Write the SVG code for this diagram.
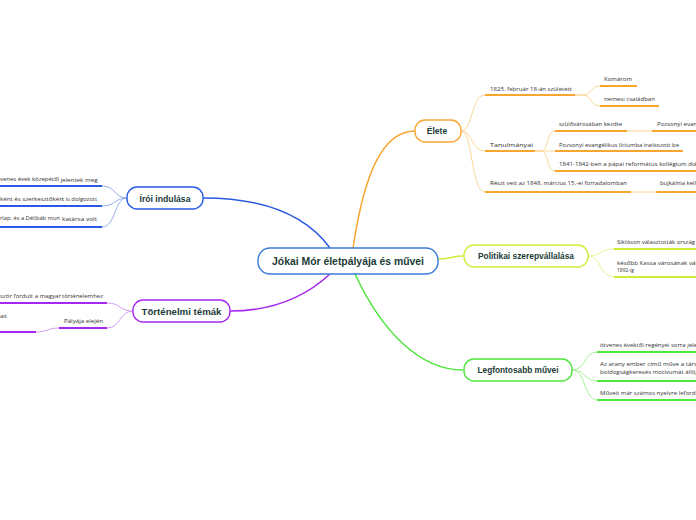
<svg xmlns="http://www.w3.org/2000/svg" width="696" height="520" viewBox="0 0 696 520">
<style>
.bg{fill:#ffffff}
.box{fill:#ffffff;stroke-width:1.4}
.title{font-family:"Liberation Sans",Arial,sans-serif;font-weight:bold;fill:#1b3b36;text-anchor:middle;dominant-baseline:central}
.t{font-family:"Open Sans","Liberation Sans",Arial,sans-serif;font-size:6px;fill:#333333}
.ul{fill:none;stroke-width:2;stroke-linecap:butt}
.lc{fill:none;stroke-width:1}
.main{fill:none;stroke-width:1.5}
.o{stroke:#f8a630}.ol{stroke:#fcd697}
.y{stroke:#cfeb34}.yl{stroke:#e6f59a}
.g{stroke:#4ee63c}.gl{stroke:#a8f29c}
.b{stroke:#2a59e3}.bl{stroke:#94acf0}
.p{stroke:#a528ef}.pl{stroke:#d79cf7}
</style>
<rect class="bg" x="0" y="0" width="696" height="520"/>
<g id="connectors">
<path class="main b" d="M203,198 C262,198 305,214 330,248"/>
<path class="main o" d="M353,248 C364,175 382,131 415,131"/>
<path class="main p" d="M330,274 C302,300 268,311 230,311"/>
<path class="main g" d="M355,274 C382,332 420,370 463,370"/>
<path class="main y" d="M438,259 C450,259 452,256 463,256"/>
<path class="lc ol" d="M461,131 C473,131 471,95 485,95"/>
<path class="lc ol" d="M461,131 C473,131 471,151 485,151"/>
<path class="lc ol" d="M461,131 C473,131 471,192 485,192"/>
<path class="lc ol" d="M575,95 L583,95 C592,95 590,86 600,86"/>
<path class="lc ol" d="M575,95 L583,95 C592,95 590,106 600,106"/>
<path class="lc ol" d="M535,151 L541,151 C549,151 546,131 555,131"/>
<path class="lc ol" d="M535,151 L555,151"/>
<path class="lc ol" d="M535,151 L541,151 C549,151 546,171 555,171"/>
<path class="lc ol" d="M627,131 L652,131"/>
<path class="lc ol" d="M631,192 L656,192"/>
<path class="lc yl" d="M588,256 C601,256 600,249 614,249"/>
<path class="lc yl" d="M588,256 C601,256 600,277 614,277"/>
<path class="lc gl" d="M572,370 C586,370 584,352 597,352"/>
<path class="lc gl" d="M572,370 C586,370 584,381 597,381"/>
<path class="lc gl" d="M572,370 C586,370 584,400 597,400"/>
<path class="lc bl" d="M127,198 C114,198 116,186 102,186"/>
<path class="lc bl" d="M127,198 C114,198 116,206 102,206"/>
<path class="lc bl" d="M127,198 C114,198 116,227 102,227"/>
<path class="lc pl" d="M133,311 C119,311 121,303 107,303"/>
<path class="lc pl" d="M133,311 C119,311 121,328 107,328"/>
<path class="lc pl" d="M59,328 C48,328 47,332 36,332"/>
</g>
<g id="center">
<rect class="box" x="258" y="248" width="180" height="26" rx="12" stroke="#3b7bd8" stroke-width="1.5"/>
<text class="title" x="348" y="261.5" font-size="10" textLength="152" lengthAdjust="spacingAndGlyphs">Jókai Mór életpályája és művei</text>
</g>
<g id="elete">
<rect class="box o" x="415" y="120" width="46" height="22" rx="10"/>
<text class="title" x="437" y="131" font-size="8.5">Élete</text>
</g>
<g id="elete-szuletett">
<path class="ul o" d="M485,95 L575,95"/>
<text class="t" x="490" y="91" textLength="82" lengthAdjust="spacingAndGlyphs">1825. február 18-án született</text>
</g>
<g id="komarom">
<path class="ul o" d="M600,86 L637,86"/>
<text class="t" x="604" y="81" textLength="28" lengthAdjust="spacingAndGlyphs">Komárom</text>
</g>
<g id="nemesi">
<path class="ul o" d="M600,106 L659,106"/>
<text class="t" x="604" y="101" textLength="51" lengthAdjust="spacingAndGlyphs">nemesi családban</text>
</g>
<g id="tanulmanyai">
<path class="ul o" d="M485,151 L535,151"/>
<text class="t" x="490" y="146.5" textLength="43" lengthAdjust="spacingAndGlyphs">Tanulmányai</text>
</g>
<g id="szulovarosaban">
<path class="ul o" d="M555,131 L627,131"/>
<text class="t" x="559" y="126" textLength="63" lengthAdjust="spacingAndGlyphs">szülővárosában kezdte</text>
</g>
<g id="pozsonyi-evan">
<path class="ul o" d="M652,131 L696,131"/>
<text class="t" x="657" y="126" textLength="40" lengthAdjust="spacingAndGlyphs">Pozsonyi evan</text>
</g>
<g id="pozsonyi-liceum">
<path class="ul o" d="M555,151 L683,151"/>
<text class="t" x="559" y="146.5" textLength="120" lengthAdjust="spacingAndGlyphs">Pozsonyi evangélikus líciumba iratkozott be</text>
</g>
<g id="papai">
<path class="ul o" d="M555,171 L696,171"/>
<text class="t" x="559" y="165.5" textLength="138" lengthAdjust="spacingAndGlyphs">1841-1842-ben a pápai református kollégium diá</text>
</g>
<g id="forradalom">
<path class="ul o" d="M485,192 L631,192"/>
<text class="t" x="490" y="184.5" textLength="137" lengthAdjust="spacingAndGlyphs">Részt vett az 1848. március 15.-ei forradalomban</text>
</g>
<g id="bujkalnia">
<path class="ul o" d="M656,192 L696,192"/>
<text class="t" x="660" y="184.5" textLength="36" lengthAdjust="spacingAndGlyphs">bujkálnia kell</text>
</g>
<g id="politikai">
<rect class="box y" x="464" y="245" width="124" height="22" rx="10"/>
<text class="title" x="526" y="256" font-size="8.5" textLength="96" lengthAdjust="spacingAndGlyphs">Politikai szerepvállalása</text>
</g>
<g id="sikloson">
<path class="ul y" d="M614,249 L696,249"/>
<text class="t" x="617" y="244" textLength="78" lengthAdjust="spacingAndGlyphs">Siklóson választották ország</text>
</g>
<g id="kassa">
<path class="ul y" d="M614,277 L696,277"/>
<text class="t" x="617" y="264.5" textLength="80" lengthAdjust="spacingAndGlyphs">később Kassa városának  vál</text>
<text class="t" x="617" y="272" textLength="17" lengthAdjust="spacingAndGlyphs">1892-ig</text>
</g>
<g id="legfontosabb">
<rect class="box g" x="464" y="359" width="108" height="22" rx="10"/>
<text class="title" x="518" y="370" font-size="8.5" textLength="81" lengthAdjust="spacingAndGlyphs">Legfontosabb művei</text>
</g>
<g id="otvenes">
<path class="ul g" d="M597,352 L696,352"/>
<text class="t" x="600" y="347" textLength="97" lengthAdjust="spacingAndGlyphs">ötvenes évektől regényei sorra jele</text>
</g>
<g id="aranyember">
<path class="ul g" d="M597,381 L696,381"/>
<text class="t" x="600" y="366" textLength="97" lengthAdjust="spacingAndGlyphs">Az arany ember  című műve a társ</text>
<text class="t" x="600" y="373.5" textLength="97" lengthAdjust="spacingAndGlyphs">boldogságkeresés motívumát állítj</text>
</g>
<g id="forditas">
<path class="ul g" d="M597,400 L696,400"/>
<text class="t" x="600" y="395" textLength="97" lengthAdjust="spacingAndGlyphs">Műveit már számos nyelvre lefordí</text>
</g>
<g id="iroi">
<rect class="box b" x="127" y="187" width="76" height="22" rx="10"/>
<text class="title" x="165" y="198.5" font-size="8.5" textLength="51" lengthAdjust="spacingAndGlyphs">Írói indulása</text>
</g>
<g id="iroi-1">
<path class="ul b" d="M0,186 L102,186"/>
<text class="t" x="0" y="180.5" textLength="59" lengthAdjust="spacingAndGlyphs">venes évek közepétől</text>
<text class="t" x="60.5" y="181.5" textLength="37" lengthAdjust="spacingAndGlyphs">jelentek meg</text>
</g>
<g id="iroi-2">
<path class="ul b" d="M0,206 L102,206"/>
<text class="t" x="0" y="200.5" textLength="63" lengthAdjust="spacingAndGlyphs">ként és szerkesztőkén</text>
<text class="t" x="62" y="201" textLength="35" lengthAdjust="spacingAndGlyphs">t is dolgozott</text>
</g>
<g id="iroi-3">
<path class="ul b" d="M0,227 L102,227"/>
<text class="t" x="0" y="219.5" textLength="60" lengthAdjust="spacingAndGlyphs">rlap, és a Délibáb  mun</text>
<text class="t" x="62" y="220.5" textLength="35" lengthAdjust="spacingAndGlyphs">katársa volt</text>
</g>
<g id="tortenelmi">
<rect class="box p" x="133" y="300" width="97" height="22" rx="10"/>
<text class="title" x="181.5" y="311.5" font-size="8.5" textLength="80" lengthAdjust="spacingAndGlyphs">Történelmi témák</text>
</g>
<g id="tort-1">
<path class="ul p" d="M0,303 L107,303"/>
<text class="t" x="0" y="297.5" textLength="61" lengthAdjust="spacingAndGlyphs">ször fordult a magyar</text>
<text class="t" x="62" y="297.5" textLength="41" lengthAdjust="spacingAndGlyphs">történelemhez</text>
</g>
<g id="palyaja">
<path class="ul p" d="M59,328 L107,328"/>
<text class="t" x="64" y="323" textLength="39" lengthAdjust="spacingAndGlyphs">Pályája elején</text>
</g>
<g id="palyaja-child">
<path class="ul p" d="M0,332 L36,332"/>
<text class="t" x="0" y="317.5" textLength="7" lengthAdjust="spacingAndGlyphs">ait</text>
</g>
</svg>
